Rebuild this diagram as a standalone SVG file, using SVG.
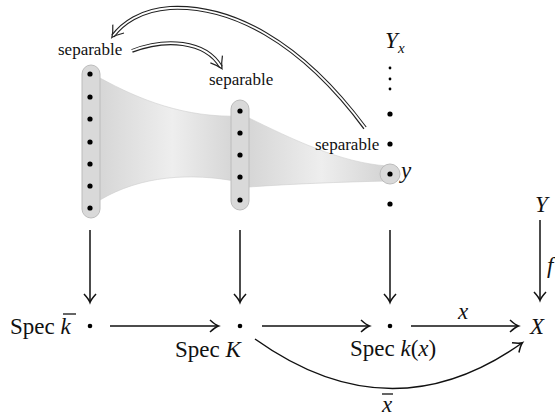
<svg xmlns="http://www.w3.org/2000/svg" width="555" height="417" viewBox="0 0 555 417">
<defs>
<style>
.t{font-family:"Liberation Serif","Times New Roman",serif;font-size:23px;fill:#111}
.i{font-style:italic}
.sep{font-family:"Liberation Serif","Times New Roman",serif;font-size:17px;fill:#111}
.ar{fill:none;stroke:#111;stroke-width:1.5}
.dbo{fill:none;stroke:#222;stroke-width:4}
.dbi{fill:none;stroke:#fff;stroke-width:1.8}
.pill{fill:#d9d9d9;stroke:#bcbcbc;stroke-width:1}
.dot{fill:#000}
.bar{stroke:#111;stroke-width:1.3}
</style>
<linearGradient id="g1" x1="0" x2="1" y1="0" y2="0">
<stop offset="0" stop-color="#d3d3d3"/>
<stop offset="0.55" stop-color="#eeeeee"/>
<stop offset="1" stop-color="#d3d3d3"/>
</linearGradient>
<marker id="ah" markerUnits="userSpaceOnUse" viewBox="-10 -8 14 16" refX="0" refY="0" markerWidth="14" markerHeight="16" orient="auto">
<path d="M-8,-6 Q-2.5,-1 0.5,0 Q-2.5,1 -8,6" fill="none" stroke="#111" stroke-width="1.5"/>
</marker>
<marker id="dh" markerUnits="userSpaceOnUse" viewBox="-12 -10 16 20" refX="0" refY="0" markerWidth="16" markerHeight="20" orient="auto">
<path d="M-9,-7 Q-3,-2 2,0 Q-3,2 -9,7" fill="none" stroke="#222" stroke-width="1.2"/>
</marker>
</defs>
<rect width="555" height="417" fill="#fff"/>

<g id="fibers">
<path d="M90,75 L100,78 C140,100 185,118 240,116 L240,182 C190,172 140,176 100,200 L90,200 Z" fill="url(#g1)" stroke="#cfcfcf" stroke-width="0.6"/>
<path d="M240,118 L249,118 C290,138 340,163 388,166 L388,181 C340,182 290,184 249,187 L240,187 Z" fill="url(#g1)" stroke="#cfcfcf" stroke-width="0.6"/>
</g>

<g id="fiber-kbar">
<rect class="pill" x="82" y="65" width="18" height="153" rx="9"/>
<circle class="dot" cx="90" cy="74" r="2.6"/>
<circle class="dot" cx="90" cy="97" r="2.6"/>
<circle class="dot" cx="90" cy="119" r="2.6"/>
<circle class="dot" cx="90" cy="142" r="2.6"/>
<circle class="dot" cx="90" cy="164" r="2.6"/>
<circle class="dot" cx="90" cy="186" r="2.6"/>
<circle class="dot" cx="90" cy="208" r="2.6"/>
</g>

<g id="fiber-K">
<rect class="pill" x="231" y="100" width="18" height="110" rx="9"/>
<circle class="dot" cx="240" cy="111" r="2.6"/>
<circle class="dot" cx="240" cy="133" r="2.6"/>
<circle class="dot" cx="240" cy="155" r="2.6"/>
<circle class="dot" cx="240" cy="177" r="2.6"/>
<circle class="dot" cx="240" cy="200" r="2.6"/>
</g>

<g id="fiber-Yx">
<text class="t i" x="385" y="48">Y</text>
<text class="t i" x="398" y="53" style="font-size:15px">x</text>
<circle class="dot" cx="390" cy="68" r="1.4"/>
<circle class="dot" cx="390" cy="79" r="1.4"/>
<circle class="dot" cx="390" cy="89" r="1.4"/>
<circle class="dot" cx="390" cy="114" r="2.6"/>
<circle class="dot" cx="390" cy="144" r="2.6"/>
<circle class="pill" cx="390" cy="174" r="10"/>
<circle class="dot" cx="390" cy="174" r="2.6"/>
<circle class="dot" cx="390" cy="204" r="2.6"/>
<text class="t i" x="401" y="178">y</text>
</g>

<g id="labels-separable">
<text class="sep" x="58" y="55">separable</text>
<text class="sep" x="209" y="85">separable</text>
<text class="sep" x="315" y="150">separable</text>
</g>

<g id="node-Y"><text class="t i" x="535" y="212">Y</text></g>

<g id="node-spec-kbar">
<text class="t" x="10" y="334">Spec <tspan class="i">k</tspan></text>
<line class="bar" x1="63" y1="314" x2="76" y2="314"/>
<circle class="dot" cx="90" cy="326" r="2.3"/>
</g>
<g id="node-spec-K">
<circle class="dot" cx="240" cy="326" r="2.3"/>
<text class="t" x="175" y="357">Spec <tspan class="i">K</tspan></text>
</g>
<g id="node-spec-kx">
<circle class="dot" cx="390" cy="326" r="2.3"/>
<text class="t" x="350" y="356">Spec <tspan class="i">k</tspan>(<tspan class="i">x</tspan>)</text>
</g>
<g id="node-X"><text class="t i" x="530" y="334">X</text></g>

<g id="connectors">
<path class="ar" d="M90,230 V302" marker-end="url(#ah)"/>
<path class="ar" d="M240,230 V302" marker-end="url(#ah)"/>
<path class="ar" d="M390,230 V302" marker-end="url(#ah)"/>
<path class="ar" d="M540,220 V300" marker-end="url(#ah)"/>
<path class="ar" d="M110,326 H218" marker-end="url(#ah)"/>
<path class="ar" d="M262,326 H369" marker-end="url(#ah)"/>
<path class="ar" d="M411,326 H518" marker-end="url(#ah)"/>
<path class="ar" d="M255,339 Q391,436 522,343" marker-end="url(#ah)"/>
<path class="dbo" d="M132,51 C165,38 205,40 221,67"/>
<path class="dbi" d="M131,51 C165,38 205,40 221,67"/>
<path d="M131,51 C165,38 205,40 221,67" fill="none" stroke="none" marker-end="url(#dh)"/>
<path class="dbo" d="M365,128 C300,40 230,5 170,8 C140,10 122,24 113,36"/>
<path class="dbi" d="M366,129 C300,40 230,5 170,8 C140,10 122,24 113,36"/>
<path d="M366,129 C300,40 230,5 170,8 C140,10 122,24 113,36" fill="none" stroke="none" marker-end="url(#dh)"/>
<text class="t i" x="458" y="319">x</text>
<text class="t i" x="382" y="412">x</text>
<line class="bar" x1="382" y1="394" x2="393" y2="394"/>
<text class="t i" x="547" y="273">f</text>
</g>
</svg>
